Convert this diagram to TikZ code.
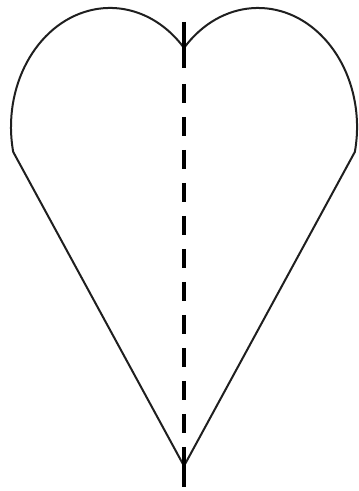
\documentclass[tikz,border=0pt]{standalone}
\begin{document}
\begin{tikzpicture}[x=1pt,y=1pt,
  outline/.style={draw=black!88, line width=2pt, line join=round},
  axisline/.style={draw=black, line width=3.2pt},
  axisdash/.style={draw=black, line width=3.2pt, dash pattern=on 19pt off 14pt}]
\useasboundingbox (0,0) rectangle (359,491);
% heart outline
\coordinate (tip) at (184,25);
\coordinate (cl) at (13.2,339.1);
\draw[outline] (tip) -- (cl)
  arc[start angle=192.1, end angle=41.6, x radius=99, y radius=119]
  arc[start angle=138.4, end angle=-12.1, x radius=99, y radius=119]
  -- cycle;
% vertical axis
\coordinate (a1) at (184,469);
\coordinate (a2) at (184,423);
\coordinate (a3) at (184,407);
\coordinate (a4) at (184,58);
\coordinate (a5) at (184,44);
\coordinate (a6) at (184,4);
\draw[axisline] (a1) -- (a2);
\draw[axisdash] (a3) -- (a4);
\draw[axisline] (a5) -- (a6);
\end{tikzpicture}
\end{document}
